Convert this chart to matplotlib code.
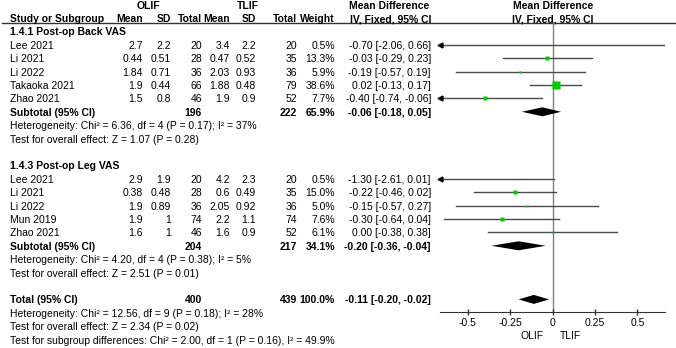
import numpy as np
import matplotlib
matplotlib.use("Agg")
import matplotlib.pyplot as plt

plt.rcParams["font.family"] = ["Liberation Sans", "DejaVu Sans"]
FS = 7.5

# ---------------------------------------------------------------------
# data
# ---------------------------------------------------------------------
back_studies = ["Lee 2021", "Li 2021", "Li 2022", "Takaoka 2021", "Zhao 2021"]
back_olif_mean = [2.7, 0.44, 1.84, 1.9, 1.5]
back_olif_sd = [2.2, 0.51, 0.71, 0.44, 0.8]
back_olif_n = [20, 28, 36, 66, 46]
back_tlif_mean = [3.4, 0.47, 2.03, 1.88, 1.9]
back_tlif_sd = [2.2, 0.52, 0.93, 0.48, 0.9]
back_tlif_n = [20, 35, 36, 79, 52]
back_weight = [0.5, 13.3, 5.9, 38.6, 7.7]
back_md = [-0.70, -0.03, -0.19, 0.02, -0.40]
back_lo = [-2.06, -0.29, -0.57, -0.13, -0.74]
back_hi = [0.66, 0.23, 0.19, 0.17, -0.06]
back_sub = (196, 222, 65.9, -0.06, -0.18, 0.05)
back_het = "Heterogeneity: Chi² = 6.36, df = 4 (P = 0.17); I² = 37%"
back_z = "Test for overall effect: Z = 1.07 (P = 0.28)"

leg_studies = ["Lee 2021", "Li 2021", "Li 2022", "Mun 2019", "Zhao 2021"]
leg_olif_mean = [2.9, 0.38, 1.9, 1.9, 1.6]
leg_olif_sd = [1.9, 0.48, 0.89, 1, 1]
leg_olif_n = [20, 28, 36, 74, 46]
leg_tlif_mean = [4.2, 0.6, 2.05, 2.2, 1.6]
leg_tlif_sd = [2.3, 0.49, 0.92, 1.1, 0.9]
leg_tlif_n = [20, 35, 36, 74, 52]
leg_weight = [0.5, 15.0, 5.0, 7.6, 6.1]
leg_md = [-1.30, -0.22, -0.15, -0.30, 0.00]
leg_lo = [-2.61, -0.46, -0.57, -0.64, -0.38]
leg_hi = [0.01, 0.02, 0.27, 0.04, 0.38]
leg_sub = (204, 217, 34.1, -0.20, -0.36, -0.04)
leg_het = "Heterogeneity: Chi² = 4.20, df = 4 (P = 0.38); I² = 5%"
leg_z = "Test for overall effect: Z = 2.51 (P = 0.01)"

total = (400, 439, 100.0, -0.11, -0.20, -0.02)
total_lines = [
    "Heterogeneity: Chi² = 12.56, df = 9 (P = 0.18); I² = 28%",
    "Test for overall effect: Z = 2.34 (P = 0.02)",
    "Test for subgroup differences: Chi² = 2.00, df = 1 (P = 0.16), I² = 49.9%",
]
ticks = [-0.5, -0.25, 0, 0.25, 0.5]
tick_labels = ["-0.5", "-0.25", "0", "0.25", "0.5"]

# ---------------------------------------------------------------------
# layout (pixel units, figure is 676 x 348)
# ---------------------------------------------------------------------
W, H = 676, 348
ROW0, DY = 19, 13.4
AX_L, AX_R, AX_TOP, AX_BOT = 440, 665, 22, 312
XLIM = 0.663
col_x = [143, 171, 202, 230, 256, 297, 335, 431]  # right edges


def row_y(r):
    return ROW0 + DY * r


fig = plt.figure(figsize=(W / 100, H / 100), dpi=100)
tax = fig.add_axes([0, 0, 1, 1])
tax.set_xlim(0, W)
tax.set_ylim(H, 0)
tax.axis("off")

ax = fig.add_axes([AX_L / W, (H - AX_BOT) / H, (AX_R - AX_L) / W, (AX_BOT - AX_TOP) / H])
ax.set_xlim(-XLIM, XLIM)
ax.set_ylim(AX_BOT, AX_TOP)
ax.patch.set_alpha(0)


def txt(x, y, s, ha="left", bold=False):
    tax.text(x, y, s, ha=ha, va="center", fontsize=FS,
             fontweight="bold" if bold else "normal", color="black")


# headers
txt(148, 6, "OLIF", "center", True)
txt(248, 6, "TLIF", "center", True)
txt(389, 6, "Mean Difference", "center", True)
txt(553, 6, "Mean Difference", "center", True)
txt(10, row_y(0), "Study or Subgroup", bold=True)
for x, s in zip(col_x[:7], ["Mean", "SD", "Total", "Mean", "SD", "Total", "Weight"]):
    txt(x, row_y(0), s, "right", True)
txt(391, row_y(0), "IV, Fixed, 95% CI", "center", True)
txt(553, row_y(0), "IV, Fixed, 95% CI", "center", True)
tax.plot([2, W], [22.5, 22.5], color="#333333", lw=1)


def study_block(r0, title, studies, om, osd, on, tm, tsd, tn, wt, md, lo, hi, sub, het, z):
    txt(10, row_y(r0), title, bold=True)
    for i, name in enumerate(studies):
        y = row_y(r0 + 1 + i)
        vals = [f"{om[i]:g}", f"{osd[i]:g}", f"{on[i]}", f"{tm[i]:g}", f"{tsd[i]:g}",
                f"{tn[i]}", f"{wt[i]:.1f}%", f"{md[i]:.2f} [{lo[i]:.2f}, {hi[i]:.2f}]"]
        txt(10, y, name)
        for x, s in zip(col_x, vals):
            txt(x, y, s, "right")
        # CI line, with arrow if it runs off the scale
        ax.plot([max(lo[i], -XLIM), min(hi[i], XLIM)], [y - 1, y - 1], color="#4a4a4a", lw=1, zorder=2)
        if lo[i] < -XLIM:
            ax.plot(-XLIM, y - 1, marker="<", ms=3.5, color="black", clip_on=False, zorder=3)
        side = max(1.15 * np.sqrt(wt[i]), 2.6) * 0.72
        ax.plot(md[i], y - 1, marker="s", ms=side, mec="none", color="#00cc00", zorder=4)
    ys = row_y(r0 + 1 + len(studies))
    summary_row(ys, "Subtotal (95% CI)", sub)
    txt(10, ys + DY, het)
    txt(10, ys + 2 * DY, z)


def summary_row(y, label, s):
    n1, n2, w, m, l, h = s
    txt(10, y, label, bold=True)
    txt(col_x[2], y, f"{n1}", "right", True)
    txt(col_x[5], y, f"{n2}", "right", True)
    txt(col_x[6], y, f"{w:.1f}%", "right", True)
    txt(col_x[7], y, f"{m:.2f} [{l:.2f}, {h:.2f}]", "right", True)
    ax.fill([l, m, h, m], [y - 1, y - 5.5, y - 1, y + 3.5], color="black", lw=0, zorder=3)


study_block(1, "1.4.1 Post-op Back VAS", back_studies, back_olif_mean, back_olif_sd, back_olif_n,
            back_tlif_mean, back_tlif_sd, back_tlif_n, back_weight, back_md, back_lo, back_hi,
            back_sub, back_het, back_z)
study_block(11, "1.4.3 Post-op Leg VAS", leg_studies, leg_olif_mean, leg_olif_sd, leg_olif_n,
            leg_tlif_mean, leg_tlif_sd, leg_tlif_n, leg_weight, leg_md, leg_lo, leg_hi,
            leg_sub, leg_het, leg_z)
summary_row(row_y(21), "Total (95% CI)", total)
for k, line in enumerate(total_lines):
    txt(10, row_y(22 + k), line)

# forest axis
ax.axvline(0, color="#808080", lw=1, zorder=1)
for side in ["top", "left", "right"]:
    ax.spines[side].set_visible(False)
ax.spines["bottom"].set_color("#333333")
ax.set_yticks([])
ax.set_xticks(ticks)
ax.set_xticklabels(tick_labels, fontsize=FS)
ax.tick_params(axis="x", direction="inout", length=5, width=1, color="#333333", pad=2)
ax.text(-0.05, 336, "OLIF", ha="right", va="center", fontsize=FS, clip_on=False)
ax.text(0.045, 336, "TLIF", ha="left", va="center", fontsize=FS, clip_on=False)

fig.savefig("out.png", dpi=100)
